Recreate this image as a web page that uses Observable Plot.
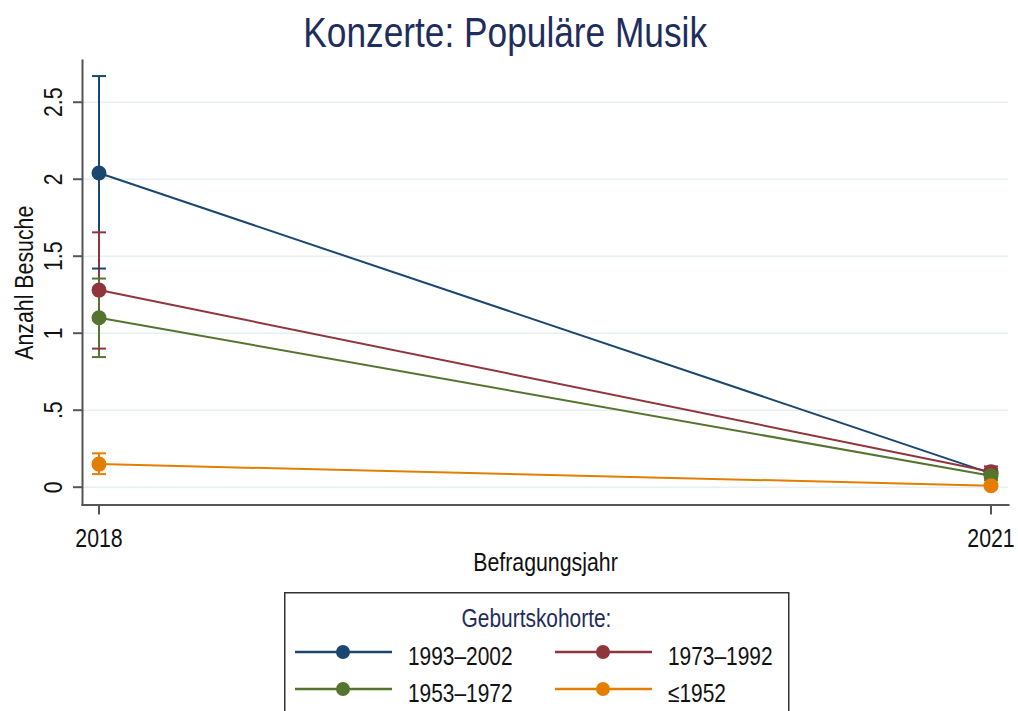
<!DOCTYPE html>
<html><head><meta charset="utf-8">
<script src="https://cdn.jsdelivr.net/npm/d3@7"></script>
<script src="https://cdn.jsdelivr.net/npm/@observablehq/plot@0.6"></script>
<style>
html,body{margin:0;padding:0;overflow:hidden;background:#fff;width:1018px;height:711px}
#wrap{position:relative;width:1018px;height:711px;font-family:"Liberation Sans",Arial,sans-serif}
#title{position:absolute;left:-4px;top:10px;width:1018px;text-align:center;font-size:43px;line-height:44px;color:#1f2d5c;white-space:nowrap}
#title span{display:inline-block;transform:scaleX(0.82);transform-origin:50% 50%}
#chart{position:absolute;left:0;top:58px}
#legend{position:absolute;left:284px;top:592px}
</style></head><body><div id="wrap"><div id="title"><span>Konzerte: Populäre Musik</span></div><div id="chart"></div><div id="legend"></div></div>
<script>
const years = [2018, 2021];
const cohorts = ["1993–2002", "1973–1992", "1953–1972", "≤1952"];
const colors = ["#1a476f", "#90353b", "#55752f", "#e37e00"];
const mean2018 = [2.04, 1.28, 1.10, 0.15];
const lo2018 = [1.42, 0.90, 0.845, 0.085];
const hi2018 = [2.67, 1.655, 1.355, 0.22];
const mean2021 = [0.09, 0.10, 0.075, 0.01];
const lo2021 = [0.06, 0.07, 0.045, 0.0];
const hi2021 = [0.12, 0.135, 0.105, 0.02];
const yTicks = [0, 0.5, 1, 1.5, 2, 2.5];
const yTickLabels = ["0", ".5", "1", "1.5", "2", "2.5"];
const xLabel = "Befragungsjahr";
const yLabel = "Anzahl Besuche";
const legendTitle = "Geburtskohorte:";

const FONT = '"Liberation Sans",Arial,sans-serif';
const NARROW = 0.82; // condense glyphs horizontally like the reference's narrow font

const rows = cohorts.flatMap((c, i) => [
  {cohort: c, year: years[0], mean: mean2018[i], lo: lo2018[i], hi: hi2018[i]},
  {cohort: c, year: years[1], mean: mean2021[i], lo: lo2021[i], hi: hi2021[i]}
]);

const capSymbol = {
  draw(ctx, size) {
    const w = Math.sqrt(size / Math.PI);
    ctx.moveTo(-w, 0);
    ctx.lineTo(w, 0);
  }
};

const chart = Plot.plot({
  width: 1018,
  height: 532,
  marginTop: 2,
  marginBottom: 85.5,
  marginLeft: 82,
  marginRight: 10,
  style: {fontFamily: FONT, fontSize: "26px", color: "#111", background: "transparent", overflow: "visible"},
  x: {domain: [2017.9445, 2021.0589]},
  y: {domain: [-0.1156, 2.771]},
  color: {domain: cohorts, range: colors},
  marks: [
    Plot.gridY(yTicks, {stroke: "#e6eff1", strokeOpacity: 1, strokeWidth: 1.5}),
    Plot.frame({anchor: "left", stroke: "#555", strokeWidth: 2}),
    Plot.frame({anchor: "bottom", stroke: "#555", strokeWidth: 2}),
    Plot.axisY({ticks: yTicks, tickFormat: d => yTickLabels[yTicks.indexOf(d)], tickRotate: -90, tickSize: 9, tickPadding: 12, label: null, stroke: "#555", strokeWidth: 2}),
    Plot.axisX({ticks: years, tickFormat: d => String(d), tickSize: 10, tickPadding: 14, label: null, stroke: "#555", strokeWidth: 2}),
    Plot.text([yLabel], {text: d => d, frameAnchor: "left", dx: -50, rotate: -90, textAnchor: "middle", lineAnchor: "bottom", fontSize: 26, fill: "#111"}),
    Plot.text([xLabel], {text: d => d, frameAnchor: "bottom", dy: 65.5, textAnchor: "middle", lineAnchor: "bottom", fontSize: 26, fill: "#111"}),
    Plot.ruleX(rows, {x: "year", y1: "lo", y2: "hi", stroke: "cohort", strokeWidth: 2}),
    Plot.dot(rows, {x: "year", y: "lo", symbol: capSymbol, r: 7, stroke: "cohort", fill: "none", strokeWidth: 2}),
    Plot.dot(rows, {x: "year", y: "hi", symbol: capSymbol, r: 7, stroke: "cohort", fill: "none", strokeWidth: 2}),
    Plot.line(rows, {x: "year", y: "mean", z: "cohort", stroke: "cohort", strokeWidth: 2}),
    Plot.dot(rows, {x: "year", y: "mean", fill: "cohort", r: 7.5})
  ]
});
document.getElementById("chart").appendChild(chart);

// legend
const L = d3.select("#legend").append("svg").attr("width", 507).attr("height", 125)
  .style("font-family", FONT).style("overflow", "visible");
L.append("rect").attr("x", 0.75).attr("y", 0.75).attr("width", 504).attr("height", 160)
  .attr("fill", "none").attr("stroke", "#333").attr("stroke-width", 1.5);
L.append("text").attr("transform", "translate(252.5,35)").attr("text-anchor", "middle")
  .attr("font-size", 25.5).attr("fill", "#1f2d5c").text(legendTitle);
const colX = [11, 271], rowY = [60, 97];
cohorts.forEach((c, i) => {
  const x0 = colX[i % 2], y0 = rowY[Math.floor(i / 2)];
  L.append("line").attr("x1", x0).attr("x2", x0 + 97).attr("y1", y0).attr("y2", y0)
    .attr("stroke", colors[i]).attr("stroke-width", 2.5);
  L.append("circle").attr("cx", x0 + 48).attr("cy", y0).attr("r", 7).attr("fill", colors[i]);
  L.append("text").attr("transform", `translate(${x0 + 113},${y0 + 12.5})`)
    .attr("font-size", 25.5).attr("fill", "#111").text(c);
});

// condense all SVG text along its own writing direction
function condense(root) {
  root.querySelectorAll("text").forEach(el => {
    const t = el.getAttribute("transform") || "";
    const x = +(el.getAttribute("x") || 0) || 0;
    el.setAttribute("transform", `${t} translate(${x},0) scale(${NARROW},1) translate(${-x},0)`);
  });
}
condense(chart);
condense(L.node());
</script></body></html>
